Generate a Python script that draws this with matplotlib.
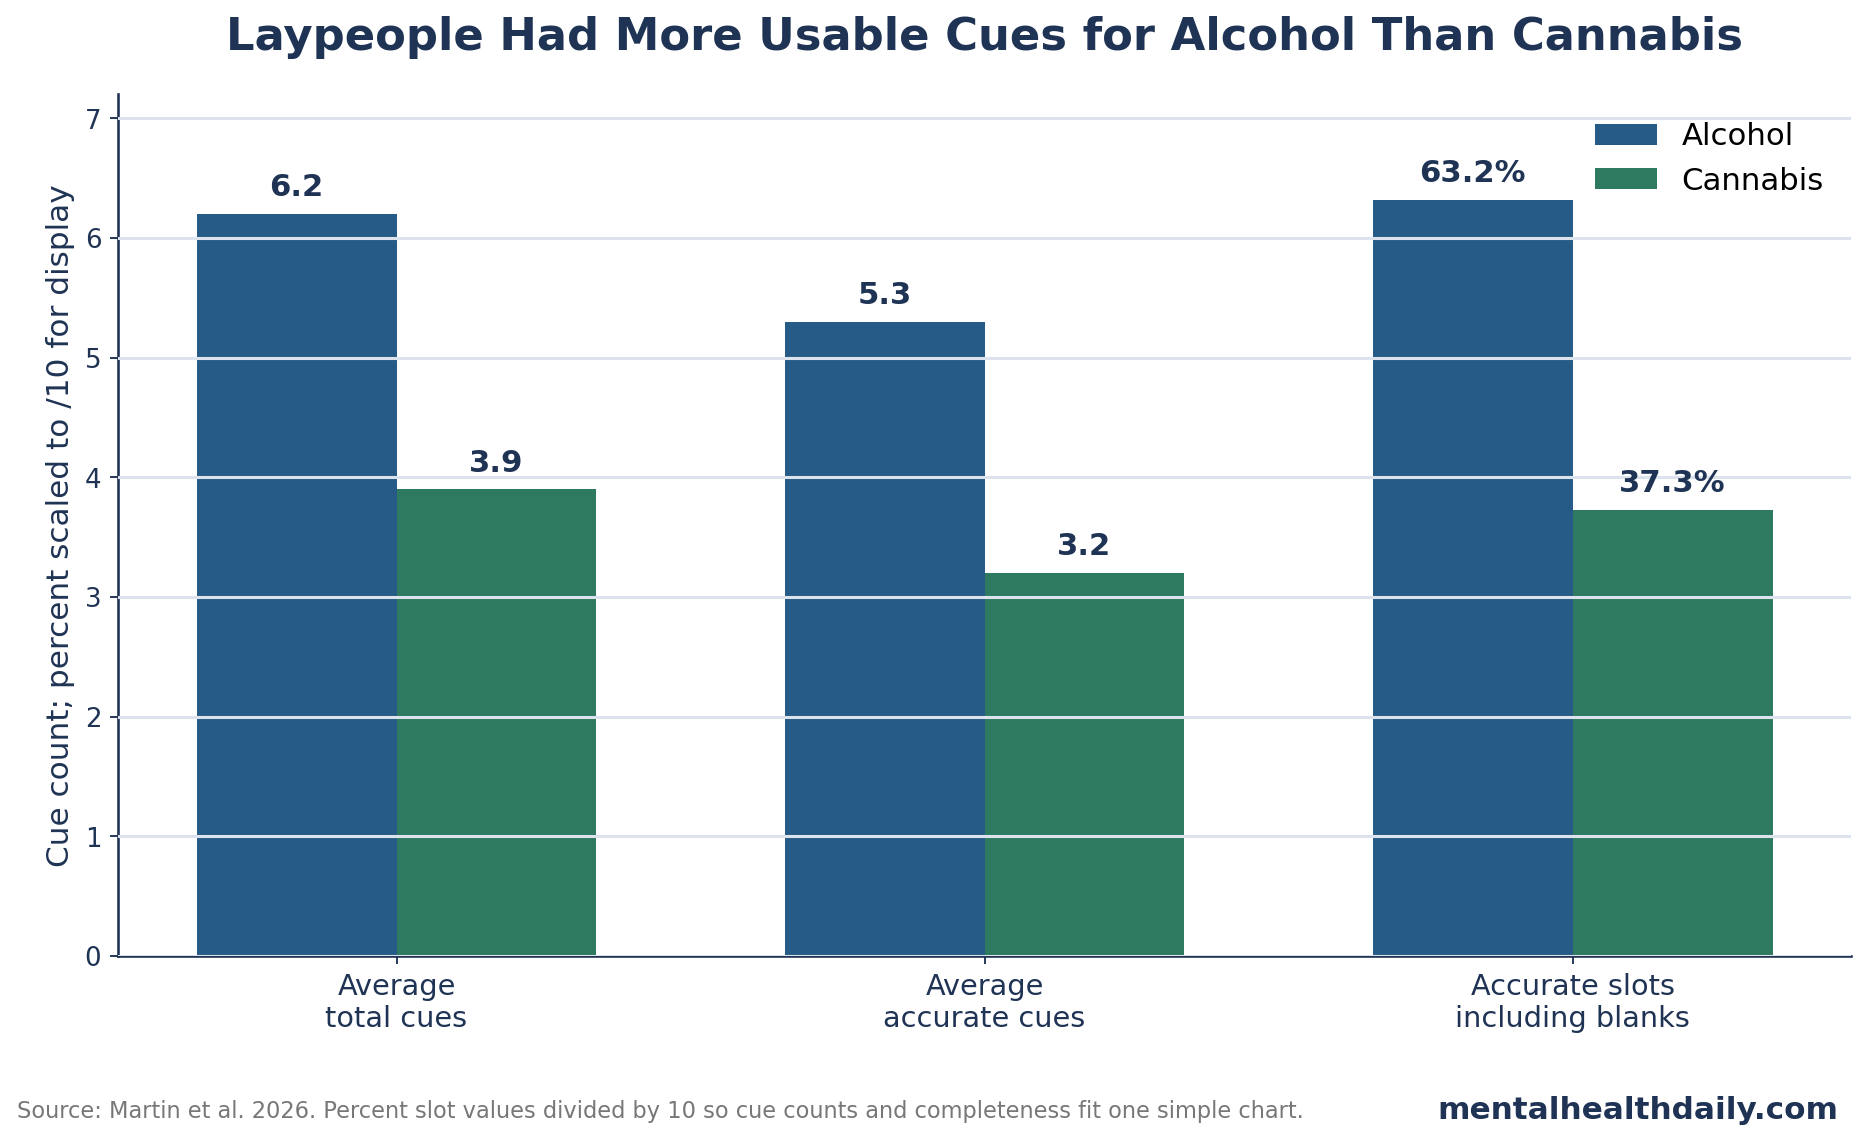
"""
Alcohol vs cannabis cue counts, grouped bars
"""
import matplotlib.pyplot as plt
import numpy as np

plt.rcParams['font.family'] = ['DejaVu Sans']

# data
categories = ['Average\ntotal cues', 'Average\naccurate cues', 'Accurate slots\nincluding blanks']
alcohol = [6.2, 5.3, 6.32]
cannabis = [3.9, 3.2, 3.73]
alcohol_labels = ['6.2', '5.3', '63.2%']
cannabis_labels = ['3.9', '3.2', '37.3%']

NAVY = '#1f3354'
BLUE = '#265b87'
GREEN = '#2d7a61'
GRID = '#dde3ec'

fig, ax = plt.subplots(figsize=(11, 6.72), dpi=170)
fig.subplots_adjust(left=0.063, right=0.990, top=0.917, bottom=0.163)

x = np.arange(len(categories))
w = 0.34
ax.bar(x - w / 2, alcohol, w, color=BLUE, label='Alcohol', zorder=1)
ax.bar(x + w / 2, cannabis, w, color=GREEN, label='Cannabis', zorder=1)

for xi, v, s in zip(x - w / 2, alcohol, alcohol_labels):
    ax.text(xi, v + 0.1, s, ha='center', va='bottom', fontsize=13,
            fontweight='bold', color=NAVY)
for xi, v, s in zip(x + w / 2, cannabis, cannabis_labels):
    ax.text(xi, v + 0.1, s, ha='center', va='bottom', fontsize=13,
            fontweight='bold', color=NAVY)

ax.set_ylim(0, 7.2)
ax.set_xticks(x)
ax.set_xticklabels(categories, fontsize=12.2, color=NAVY)
ax.tick_params(axis='y', labelsize=11, colors=NAVY)
ax.tick_params(axis='x', colors=NAVY)
ax.set_ylabel('Cue count; percent scaled to /10 for display', fontsize=13.2, color=NAVY)

ax.yaxis.grid(True, color=GRID, linewidth=1.3, zorder=2)
ax.set_axisbelow(False)
for sp in ['top', 'right']:
    ax.spines[sp].set_visible(False)
for sp in ['left', 'bottom']:
    ax.spines[sp].set_color(NAVY)
    ax.spines[sp].set_linewidth(1.1)

ax.set_title('Laypeople Had More Usable Cues for Alcohol Than Cannabis',
             fontsize=19, fontweight='bold', color=NAVY, pad=19)
ax.legend(loc='upper right', frameon=False, fontsize=13)

fig.text(0.009, 0.027, 'Source: Martin et al. 2026. Percent slot values divided by 10 so cue counts '
         'and completeness fit one simple chart.', fontsize=9.55, color='#777777', va='center')
fig.text(0.983, 0.028, 'mentalhealthdaily.com', fontsize=13.2, fontweight='bold',
         color=NAVY, ha='right', va='center')

plt.savefig('out.png', dpi=170)
